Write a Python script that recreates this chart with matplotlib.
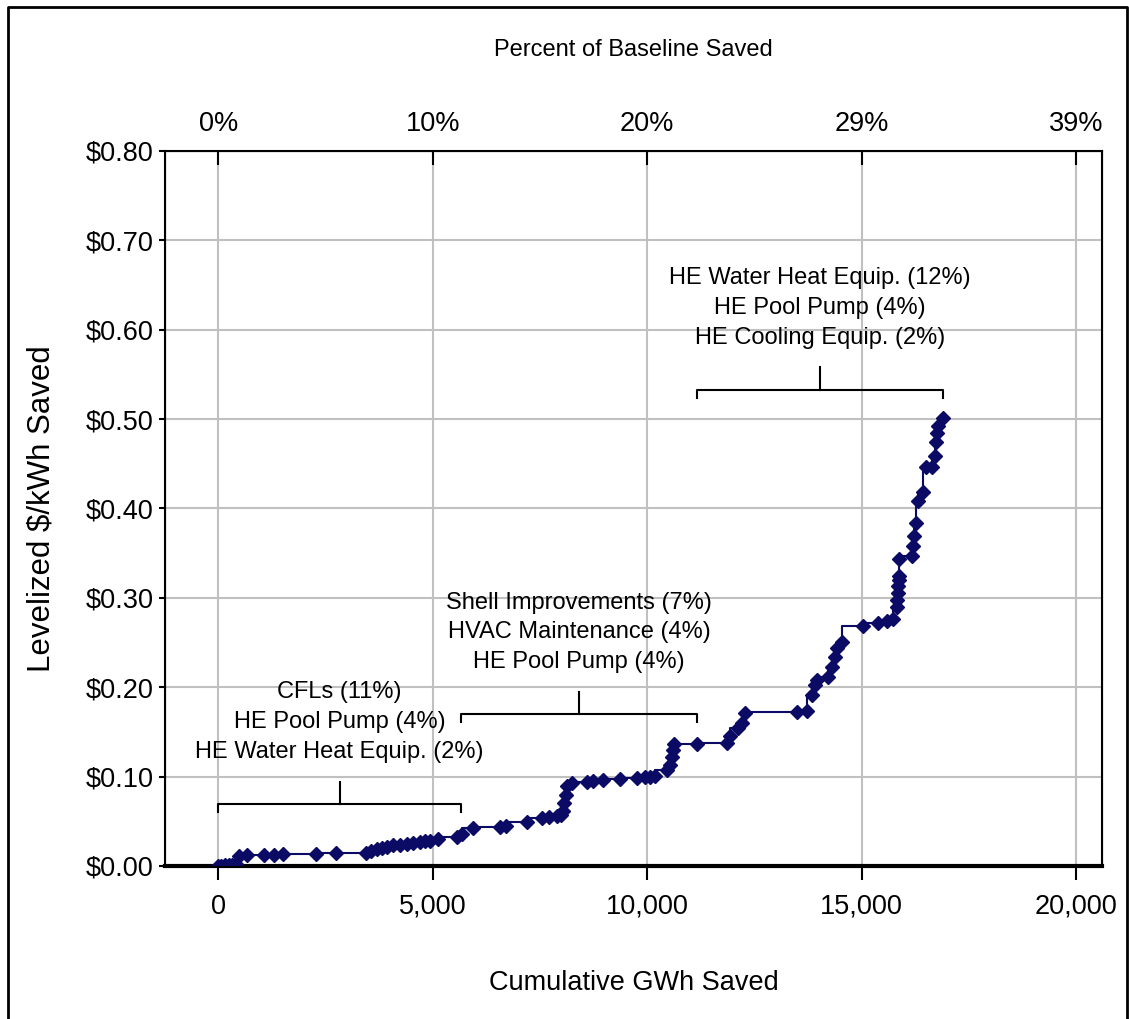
import matplotlib
matplotlib.use("Agg")
import matplotlib.pyplot as plt
from matplotlib.lines import Line2D

plt.rcParams['font.family'] = ['Liberation Sans', 'DejaVu Sans']

# cumulative GWh saved and levelized cost for each measure
gwh = [0, 60, 150, 250, 330, 420,
       474, 668, 1056, 1305, 1522, 2283, 2749,
       3441, 3570, 3697, 3820, 3930, 4080, 4240, 4400, 4550, 4706, 4820, 4939, 5133,
       5561, 5677, 5934,
       6560, 6700, 7192, 7540, 7700, 7890, 8000,
       8046, 8070, 8100, 8124, 8240,
       8590, 8746, 8979, 9366, 9754, 9949, 10065, 10182,
       10453, 10531, 10570, 10590, 10625,
       11153, 11852, 11930, 12123, 12200, 12278,
       13480, 13713, 13830, 13909, 13950, 14220, 14298, 14376, 14415, 14532,
       15020, 15385, 15580, 15735, 15813, 15829, 15840, 15852, 15860, 15870, 15875,
       16161, 16200, 16220, 16262, 16315, 16432, 16495, 16640, 16705, 16728,
       16745, 16783, 16900]
cost = [0.000, 0.000, 0.001, 0.001, 0.001, 0.002,
        0.011, 0.012, 0.012, 0.012, 0.013, 0.013, 0.015,
        0.015, 0.017, 0.019, 0.020, 0.021, 0.023, 0.024, 0.025, 0.026, 0.027, 0.028, 0.028, 0.030,
        0.032, 0.036, 0.043,
        0.044, 0.045, 0.049, 0.054, 0.055, 0.056, 0.057,
        0.062, 0.070, 0.080, 0.089, 0.093,
        0.094, 0.095, 0.096, 0.097, 0.099, 0.100, 0.100, 0.101,
        0.107, 0.113, 0.122, 0.130, 0.137,
        0.137, 0.138, 0.145, 0.154, 0.160, 0.171,
        0.172, 0.173, 0.191, 0.203, 0.208, 0.212, 0.223, 0.234, 0.244, 0.251,
        0.268, 0.272, 0.274, 0.276, 0.290, 0.298, 0.306, 0.313, 0.320, 0.324, 0.343,
        0.347, 0.358, 0.369, 0.384, 0.408, 0.418, 0.446, 0.446, 0.459, 0.474,
        0.485, 0.492, 0.501]

x_ticks = [0, 5000, 10000, 15000, 20000]
x_labels = ['0', '5,000', '10,000', '15,000', '20,000']
pct_labels = ['0%', '10%', '20%', '29%', '39%']
y_ticks = [0.0, 0.1, 0.2, 0.3, 0.4, 0.5, 0.6, 0.7, 0.8]
y_labels = ['$0.00', '$0.10', '$0.20', '$0.30', '$0.40', '$0.50', '$0.60', '$0.70', '$0.80']

groups = [
    "CFLs (11%)\nHE Pool Pump (4%)\nHE Water Heat Equip. (2%)",
    "Shell Improvements (7%)\nHVAC Maintenance (4%)\nHE Pool Pump (4%)",
    "HE Water Heat Equip. (12%)\nHE Pool Pump (4%)\nHE Cooling Equip. (2%)",
]
bracket_x0 = [0, 5660, 11160]
bracket_x1 = [5660, 11160, 16890]
bracket_y = [0.0695, 0.170, 0.533]

navy = '#0b0b66'

fig = plt.figure(figsize=(11.29, 10.19), dpi=100)
ax = fig.add_axes([165 / 1129, 1 - 866 / 1019, (1102 - 165) / 1129, (866 - 151) / 1019])

ax.plot(gwh, cost, drawstyle='steps-pre', color=navy, lw=1.5, zorder=3)
ax.plot(gwh, cost, 'D', color=navy, ms=7.5, mec=navy, zorder=4)

ax.set_xlim(-1240, 20600)
ax.set_ylim(0, 0.8)
ax.set_xticks(x_ticks)
ax.set_xticklabels(x_labels)
ax.set_yticks(y_ticks)
ax.set_yticklabels(y_labels)
ax.grid(True, color='#c0c0c0', lw=1.5)
ax.set_axisbelow(True)
ax.tick_params(axis='x', direction='out', length=10, width=1.5, labelsize=19.5, pad=10)
ax.tick_params(axis='y', direction='out', length=4, width=1.5, labelsize=19.5, pad=4)
for s in ax.spines.values():
    s.set_linewidth(1.5)
ax.spines['bottom'].set_linewidth(3)

ax.set_xlabel('Cumulative GWh Saved', fontsize=19.5, labelpad=36)
ax.set_ylabel('Levelized $/kWh Saved', fontsize=22.5, labelpad=21)

top = ax.twiny()
top.set_xlim(ax.get_xlim())
top.set_xticks(x_ticks)
top.set_xticklabels(pct_labels)
top.tick_params(axis='x', direction='in', length=10, width=1.5, labelsize=19.5, pad=10)
top.set_xlabel('Percent of Baseline Saved', fontsize=17, labelpad=40)

# bracket annotations
for label, x0, x1, yb in zip(groups, bracket_x0, bracket_x1, bracket_y):
    xm = (x0 + x1) / 2
    ax.plot([x0, x0, x1, x1], [yb - 0.009, yb, yb, yb - 0.009], color='black', lw=1.5)
    ax.plot([xm, xm], [yb, yb + 0.025], color='black', lw=1.5)
    ax.text(xm, yb + 0.046, label, ha='center', va='bottom', fontsize=17,
            linespacing=1.45)

# outer frame
fig.add_artist(Line2D([8 / 1129, 8 / 1129, 1127 / 1129, 1127 / 1129],
                      [0, 1 - 7 / 1019, 1 - 7 / 1019, 0],
                      transform=fig.transFigure, color='black', lw=2))

fig.savefig('out.png', dpi=100)
